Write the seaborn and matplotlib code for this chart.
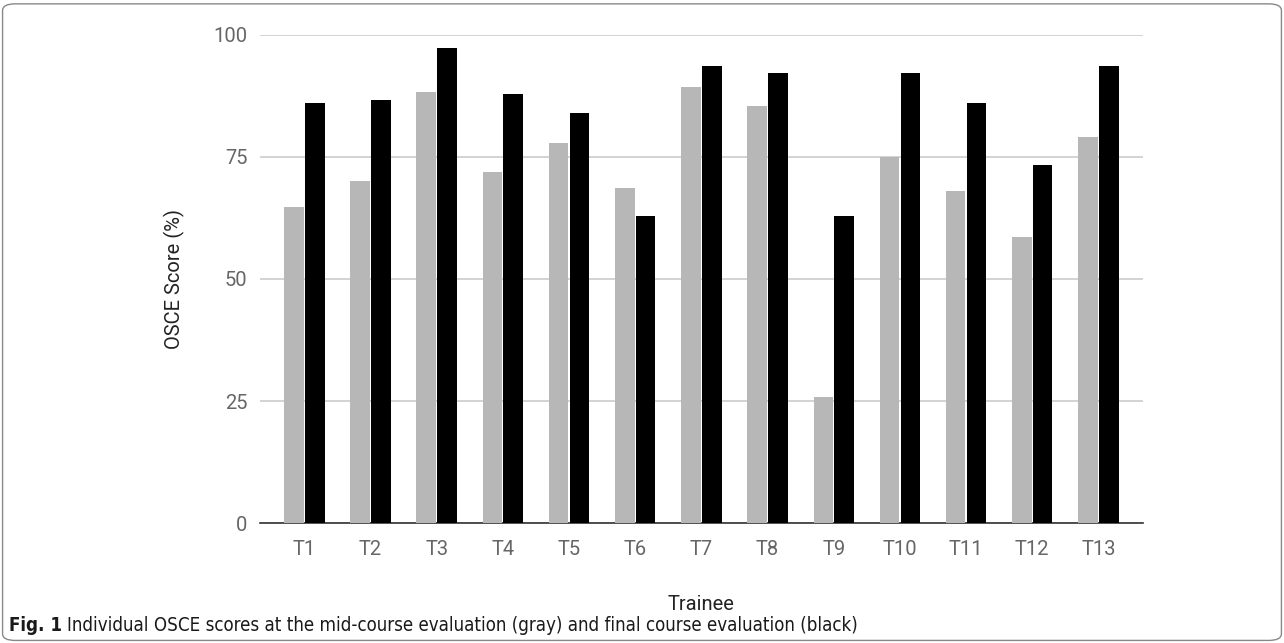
import pandas as pd
import matplotlib.pyplot as plt
import seaborn as sns
from matplotlib.patches import FancyBboxPatch

# data
trainees = ['T1', 'T2', 'T3', 'T4', 'T5', 'T6', 'T7', 'T8', 'T9', 'T10', 'T11', 'T12', 'T13']
mid_course = [64.7, 70.0, 88.4, 71.9, 77.9, 68.7, 89.4, 85.4, 25.9, 75.1, 68.0, 58.6, 79.0]
final_course = [86.1, 86.6, 97.3, 88.0, 84.1, 62.9, 93.6, 92.3, 62.9, 92.3, 86.1, 73.3, 93.6]

df = pd.DataFrame({
    'Trainee': trainees * 2,
    'Score': mid_course + final_course,
    'Evaluation': ['Mid-course'] * len(trainees) + ['Final'] * len(trainees),
})

sns.set_style('white')
plt.rcParams['font.family'] = ['Roboto', 'DejaVu Sans']

fig = plt.figure(figsize=(12.84, 6.43), dpi=100)
ax = fig.add_axes([0.2025, 0.1866, 0.6875, 0.759])

sns.barplot(data=df, x='Trainee', y='Score', hue='Evaluation',
            palette=['#b7b7b7', '#000000'], width=0.63, gap=0.06,
            linewidth=0, legend=False, ax=ax, zorder=3)

ax.set_ylim(0, 100)
ax.set_xlim(-0.67, 12.67)
ax.set_yticks([0, 25, 50, 75, 100])
ax.yaxis.grid(True, color='#cccccc', linewidth=1.2, zorder=0)
ax.set_axisbelow(True)
for s in ['top', 'right', 'left']:
    ax.spines[s].set_visible(False)
ax.spines['bottom'].set_color('#333333')
ax.spines['bottom'].set_linewidth(1.2)
ax.tick_params(axis='both', length=0, labelsize=14.5, colors='#666666')
ax.tick_params(axis='y', pad=9)
ax.tick_params(axis='x', pad=12)

ax.set_ylabel('OSCE Score (%)', fontsize=14.5, color='#222222')
ax.set_xlabel('Trainee', fontsize=14.5, color='#222222')
ax.yaxis.set_label_coords(-0.085, 0.5)
ax.xaxis.set_label_coords(0.5, -0.1475)

# caption + frame
fig.text(0.007, 0.027, 'Fig. 1', fontsize=13.4, fontweight='bold', family='DejaVu Sans',
         fontstretch='condensed', color='#1a1a1a', va='center')
fig.text(0.052, 0.027, 'Individual OSCE scores at the mid-course evaluation (gray) and final course evaluation (black)',
         fontsize=13.4, family='DejaVu Sans', fontstretch='condensed', color='#1a1a1a', va='center')

frame = FancyBboxPatch((0.002, 0.004), 0.996, 0.99, boxstyle='round,pad=0,rounding_size=0.01',
                       transform=fig.transFigure, fill=False, edgecolor='#888888', linewidth=1)
fig.patches.append(frame)

fig.savefig('out.png', dpi=100)
